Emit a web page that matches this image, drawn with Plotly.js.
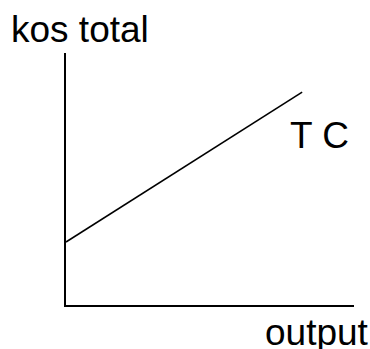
<!DOCTYPE html>
<html>
<head>
<meta charset="utf-8">
<script src="https://cdn.plot.ly/plotly-3.0.1.min.js"></script>
<style>html,body{margin:0;padding:0;background:#fff;}#chart{width:370px;height:349px;}</style>
</head>
<body>
<div id="chart"></div>
<script>
const outputValues = [0, 8.2];
const totalCost = [2.5, 8.45];
const curveLabel = "T C";
const yAxisLabel = "kos total";
const xAxisLabel = "output";

const font = {family: "Liberation Sans, Arial, sans-serif", size: 37, color: "#000"};

const data = [{
  x: outputValues,
  y: totalCost,
  type: "scatter",
  mode: "lines",
  line: {color: "#000", width: 1.6},
  hoverinfo: "skip",
  showlegend: false
}];

const layout = {
  width: 370,
  height: 349,
  margin: {l: 66, r: 16, t: 53, b: 44},
  paper_bgcolor: "#fff",
  plot_bgcolor: "#fff",
  showlegend: false,
  xaxis: {range: [0, 10], showline: true, linecolor: "#000", linewidth: 2,
          showgrid: false, zeroline: false, showticklabels: false, ticks: "", fixedrange: true},
  yaxis: {range: [0, 10], showline: true, linecolor: "#000", linewidth: 2,
          showgrid: false, zeroline: false, showticklabels: false, ticks: "", fixedrange: true},
  annotations: [
    {text: yAxisLabel, xref: "paper", yref: "paper", x: -0.197, y: 1.002,
     xanchor: "left", yanchor: "bottom", showarrow: false, font: font},
    {text: curveLabel, xref: "paper", yref: "paper", x: 0.771, y: 0.583,
     xanchor: "left", yanchor: "bottom", showarrow: false, font: font},
    {text: xAxisLabel, xref: "paper", yref: "paper", x: 0.683, y: -0.197,
     xanchor: "left", yanchor: "bottom", showarrow: false, font: font}
  ]
};

Plotly.newPlot("chart", data, layout, {displayModeBar: false, staticPlot: true});
</script>
</body>
</html>
